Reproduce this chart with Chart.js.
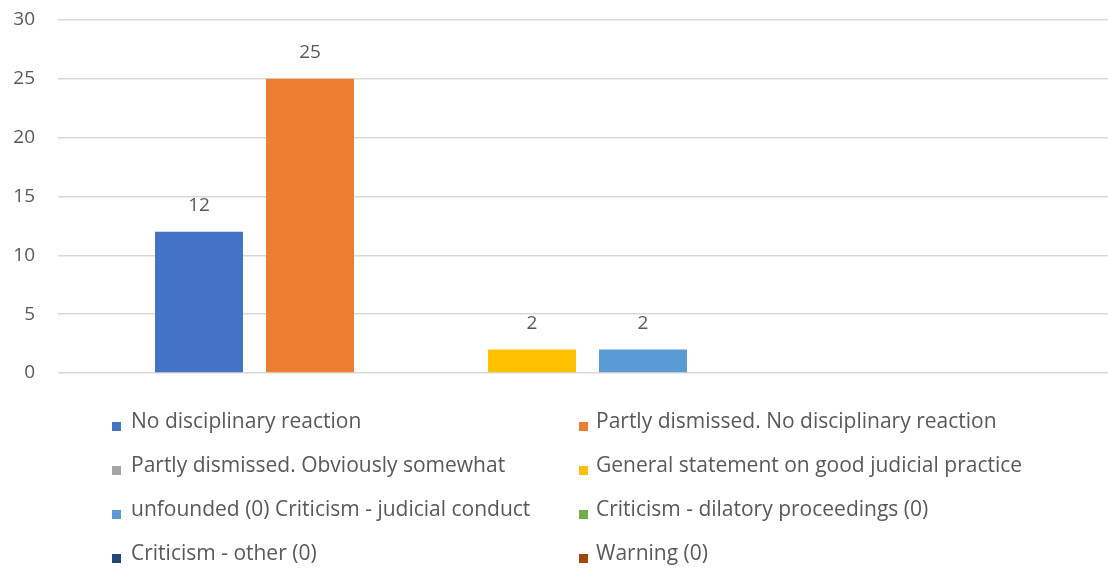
<!DOCTYPE html>
<html>
<head>
<meta charset="utf-8">
<script src="https://cdn.jsdelivr.net/npm/chart.js@4"></script>
<style>
	html, body { margin: 0; padding: 0; background: #fff; overflow: hidden; }
	.wrap { position: relative; width: 1108px; height: 570px; overflow: hidden; }
	.legend { position: absolute; left: 0; top: 0; width: 1108px; font-family: "Open Sans", sans-serif; font-size: 21px; color: #595959; }
	.legend .item { position: absolute; white-space: nowrap; line-height: 26px; }
	.legend .box { position: absolute; width: 9px; height: 9px; left: 0; top: 15px; }
	.legend .txt { position: absolute; left: 0; top: 0; }
</style>
</head>
<body>
<div class="wrap">
	<canvas id="chart" width="1117" height="570"></canvas>
	<div class="legend" id="legend"></div>
</div>
<script>
	'use strict';

	var categories = [""];
	var seriesNames = [
		"No disciplinary reaction",
		"Partly dismissed. No disciplinary reaction",
		"Partly dismissed. Obviously somewhat",
		"General statement on good judicial practice",
		"unfounded (0) Criticism - judicial conduct",
		"Criticism - dilatory proceedings (0)",
		"Criticism - other (0)",
		"Warning (0)"
	];
	var seriesValues = [12, 25, 0, 2, 2, 0, 0, 0];
	var seriesColors = ["#4472C4", "#ED7D31", "#A5A5A5", "#FFC000", "#5B9BD5", "#70AD47", "#264478", "#9E480E"];
	var yTicks = [0, 5, 10, 15, 20, 25, 30];

	var datasets = seriesNames.map(function(name, i) {
		return {
			label: name,
			data: [seriesValues[i]],
			backgroundColor: seriesColors[i],
			borderWidth: 0,
			categoryPercentage: 0.8385,
			barPercentage: 0.793
		};
	});

	// value labels above the non-zero bars
	var valueLabels = {
		id: 'valueLabels',
		afterDatasetsDraw: function(chart) {
			var ctx = chart.ctx;
			ctx.save();
			ctx.font = '19px "Open Sans", sans-serif';
			ctx.fillStyle = '#595959';
			ctx.textAlign = 'center';
			ctx.textBaseline = 'middle';
			chart.data.datasets.forEach(function(ds, i) {
				var meta = chart.getDatasetMeta(i);
				meta.data.forEach(function(bar, j) {
					var v = ds.data[j];
					if (!v) return;
					ctx.fillText(String(v), bar.x, bar.y - 26);
				});
			});
			ctx.restore();
		}
	};

	var chart = new Chart(document.getElementById('chart').getContext('2d'), {
		type: 'bar',
		data: { labels: categories, datasets: datasets },
		options: {
			responsive: false,
			animation: false,
			layout: { padding: { top: 20, bottom: 197, left: 0, right: 0 } },
			plugins: { legend: { display: false }, tooltip: { enabled: false } },
			scales: {
				x: { display: false },
				y: {
					min: 0,
					max: 30,
					afterFit: function(scale) {
						scale.width = 58;
						scale.paddingTop = 0;
						scale.paddingBottom = 0;
					},
					afterBuildTicks: function(scale) {
						scale.ticks = yTicks.map(function(v) { return { value: v }; });
					},
					border: { display: false },
					grid: { color: '#d9d9d9', lineWidth: 1.5, drawTicks: false },
					ticks: {
						padding: 23,
						color: '#595959',
						font: { family: '"Open Sans", sans-serif', size: 19 }
					}
				}
			}
		},
		plugins: [valueLabels]
	});

	// legend in two columns, built from the series
	var legendEl = document.getElementById('legend');
	seriesNames.forEach(function(name, i) {
		var col = i % 2, row = Math.floor(i / 2);
		var item = document.createElement('div');
		item.className = 'item';
		item.style.left = (col ? 579 : 112) + 'px';
		item.style.top = (407 + row * 44) + 'px';
		var box = document.createElement('span');
		box.className = 'box';
		box.style.background = seriesColors[i];
		var txt = document.createElement('span');
		txt.className = 'txt';
		txt.style.left = (col ? 17 : 19) + 'px';
		txt.textContent = name;
		item.appendChild(box);
		item.appendChild(txt);
		legendEl.appendChild(item);
	});
</script>
</body>
</html>
